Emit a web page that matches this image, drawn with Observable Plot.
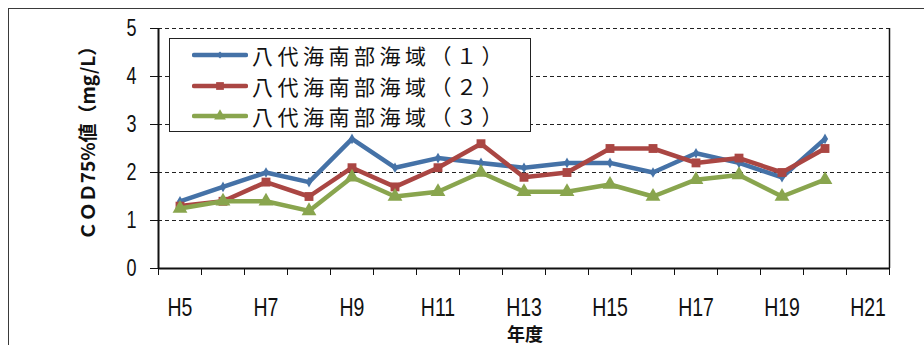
<!DOCTYPE html>
<html><head><meta charset="utf-8">
<script src="https://cdn.jsdelivr.net/npm/d3@7"></script>
<script src="https://cdn.jsdelivr.net/npm/@observablehq/plot@0.6"></script>
<style>
body{margin:0;background:#fff;overflow:hidden;width:924px;height:345px;}
#wrap{position:relative;width:924px;height:345px;overflow:hidden;background:#fff}
#border{position:absolute;left:8px;top:8px;width:940px;height:400px;border:1.5px solid #3a3a3a;box-sizing:border-box;pointer-events:none}
#legend{position:absolute;left:169px;top:38px;width:362px;height:94px;border:1.5px solid #222;background:#fff;box-sizing:border-box;font-family:"Noto Sans CJK JP","Noto Sans",sans-serif;font-size:21px;letter-spacing:4.5px;color:#111}
.row{position:absolute;left:0;height:30px;display:flex;align-items:center;white-space:nowrap}
.row svg{margin-left:22px;margin-right:4px}
</style></head>
<body><div id="wrap"></div>
<script>
const categories = ["H5","H6","H7","H8","H9","H10","H11","H12","H13","H14","H15","H16","H17","H18","H19","H20"];
const series1 = [1.4,1.7,2.0,1.8,2.7,2.1,2.3,2.2,2.1,2.2,2.2,2.0,2.4,2.2,1.9,2.7];
const series2 = [1.3,1.4,1.8,1.5,2.1,1.7,2.1,2.6,1.9,2.0,2.5,2.5,2.2,2.3,2.0,2.5];
const series3 = [1.25,1.4,1.4,1.2,1.9,1.5,1.6,2.0,1.6,1.6,1.75,1.5,1.85,1.95,1.5,1.85];
const seriesNames = ["八代海南部海域（１）","八代海南部海域（２）","八代海南部海域（３）"];
const xLabels = ["H5","H7","H9","H11","H13","H15","H17","H19","H21"];
const yTicks = [0,1,2,3,4,5];
const yTitle = "ＣＯＤ75%値（mg/L）";
const xTitle = "年度";

const colors = ["#4572A7","#AA4643","#89A54E"];
const symbols = ["diamond","square","triangle"];
const sizes = [3.2,5,5.5];

const num = s => +s.slice(1);
const firstYear = num(xLabels[0]), lastYear = num(xLabels[xLabels.length-1]);
const boundaries = d3.range(firstYear - 0.5, lastYear + 1, 1);
const allSeries = [series1, series2, series3];
const data = allSeries.flatMap((s, k) => s.map((v, i) => ({year: num(categories[i]), value: v, series: seriesNames[k]})));

const cjk = '"Noto Sans CJK JP",sans-serif';
const latin = '"Liberation Sans",Arial,sans-serif';

const marks = [
  Plot.ruleY(yTicks.filter(d => d > 0), {stroke: "#222", strokeWidth: 1.2, strokeDasharray: "4,3"}),
  Plot.ruleX([firstYear - 0.5], {stroke: "#111", strokeWidth: 2}),
  Plot.ruleX([lastYear + 0.5], {stroke: "#111", strokeWidth: 1.5}),
  Plot.ruleY([0], {stroke: "#111", strokeWidth: 2.2}),
  Plot.axisY({ticks: yTicks, tickSize: 8, tickPadding: 14, tickFormat: d => String(d), label: null, fontSize: 24, fontFamily: latin, stroke: "#111"}),
  Plot.axisX({ticks: boundaries, tickSize: 7, tickFormat: () => "", label: null, stroke: "#111"}),
  Plot.axisX({ticks: xLabels.map(num), tickSize: 0, tickPadding: 29, tickFormat: d => xLabels.find(l => num(l) === d), label: null, fontSize: 26, fontFamily: latin}),
  Plot.text([yTitle], {frameAnchor: "left", textAnchor: "middle", lineAnchor: "middle", rotate: -90, dx: -70, dy: -10, text: d => d, fontWeight: "bold", fontSize: 19, fontFamily: cjk, fill: "#111"}),
  Plot.text([xTitle], {frameAnchor: "bottom", textAnchor: "middle", lineAnchor: "middle", dy: 67, dx: 1, text: d => d, fontWeight: "bold", fontSize: 18, fontFamily: cjk, fill: "#111"})
];
seriesNames.forEach((name, k) => {
  const d = data.filter(r => r.series === name);
  marks.push(Plot.line(d, {x: "year", y: "value", stroke: colors[k], strokeWidth: 4.5}));
  marks.push(Plot.dot(d, {x: "year", y: "value", fill: colors[k], stroke: "none", symbol: symbols[k], r: sizes[k]}));
});

const chart = Plot.plot({
  width: 924, height: 345,
  marginLeft: 158, marginRight: 35, marginTop: 28, marginBottom: 77,
  x: {type: "linear", domain: [firstYear - 0.5, lastYear + 0.5]},
  y: {domain: [0, 5]},
  style: {background: "transparent", color: "#111"},
  marks
});
// condense the tick label glyphs horizontally (narrow face look)
d3.select(chart).selectAll('g[aria-label="y-axis tick label"] text, g[aria-label="x-axis tick label"] text').each(function() {
  const t = d3.select(this);
  let tr = t.attr("transform");
  if (!tr) {
    const x = +t.attr("x") || 0, y = +t.attr("y") || 0;
    t.attr("x", null).attr("y", null);
    tr = `translate(${x},${y})`;
  }
  t.attr("transform", tr + " scale(0.75,1)");
});
chart.style.position = "absolute";
chart.style.left = "0px";
chart.style.top = "0px";
const wrap = document.getElementById("wrap");
wrap.appendChild(chart);
const border = document.createElement("div");
border.id = "border";
wrap.appendChild(border);

const legend = document.createElement("div");
legend.id = "legend";
const rowTops = [1, 32, 62];
seriesNames.forEach((name, k) => {
  const row = document.createElement("div");
  row.className = "row";
  row.style.top = rowTops[k] + "px";
  const ns = "http://www.w3.org/2000/svg";
  const sv = document.createElementNS(ns, "svg");
  sv.setAttribute("width", 56); sv.setAttribute("height", 16);
  const ln = document.createElementNS(ns, "line");
  ln.setAttribute("x1", 2); ln.setAttribute("x2", 54); ln.setAttribute("y1", 8); ln.setAttribute("y2", 8);
  ln.setAttribute("stroke", colors[k]); ln.setAttribute("stroke-width", 4.5); ln.setAttribute("stroke-linecap", "round");
  sv.appendChild(ln);
  const sym = d3.symbol(k === 0 ? d3.symbolDiamond2 : k === 1 ? d3.symbolSquare : d3.symbolTriangle, k === 0 ? 30 : 60)();
  const p = document.createElementNS(ns, "path");
  p.setAttribute("d", sym); p.setAttribute("transform", "translate(28,8)"); p.setAttribute("fill", colors[k]);
  sv.appendChild(p);
  row.appendChild(sv);
  const t = document.createElement("span");
  t.textContent = name;
  row.appendChild(t);
  legend.appendChild(row);
});
wrap.appendChild(legend);
</script></body></html>
